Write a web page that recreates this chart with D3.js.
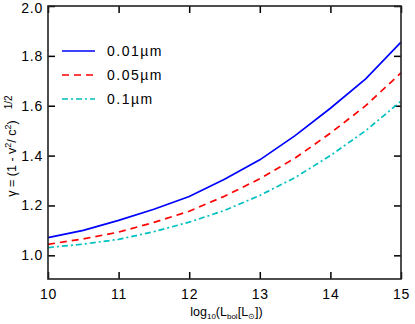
<!DOCTYPE html>
<html>
<head>
<meta charset="utf-8">
<script src="https://cdn.jsdelivr.net/npm/d3@7"></script>
<style>
  body { margin: 0; background: #fff; }
  text { font-family: "Liberation Sans", Arial, sans-serif; fill: #000; }
</style>
</head>
<body>
<div id="chart"></div>
<script>
var svgWidth = 415;
var svgHeight = 324;

var margin = { top: 6, right: 14, bottom: 45, left: 48 };
var width = svgWidth - margin.left - margin.right;
var height = svgHeight - margin.top - margin.bottom;

// data
var logL = [10, 10.5, 11, 11.5, 12, 12.5, 13, 13.5, 14, 14.5, 15];
var gamma001 = [1.071, 1.100, 1.140, 1.185, 1.236, 1.305, 1.383, 1.480, 1.590, 1.708, 1.855];
var gamma005 = [1.044, 1.066, 1.093, 1.132, 1.177, 1.237, 1.307, 1.390, 1.490, 1.600, 1.732];
var gamma01 = [1.031, 1.045, 1.064, 1.095, 1.133, 1.180, 1.240, 1.312, 1.400, 1.500, 1.618];
var seriesNames = ["0.01\u00b5m", "0.05\u00b5m", "0.1\u00b5m"];
var xTicks = [10, 11, 12, 13, 14, 15];
var yTicks = [1.0, 1.2, 1.4, 1.6, 1.8, 2.0];

var series = [
    { name: seriesNames[0], values: gamma001, color: "#0000ff", dash: null },
    { name: seriesNames[1], values: gamma005, color: "#ff0000", dash: "7,5" },
    { name: seriesNames[2], values: gamma01, color: "#00c0c0", dash: "6,3,2,3" }
];

var svg = d3.select("#chart").append("svg")
    .attr("width", svgWidth)
    .attr("height", svgHeight);

var chartGroup = svg.append("g")
    .attr("transform", `translate(${margin.left}, ${margin.top})`);

var x = d3.scaleLinear().domain([10, 15]).range([0, width]);
var y = d3.scaleLinear().domain([0.905, 2.0]).range([height, 0]);

// axes with inward ticks on all four sides
function styleAxis(g) {
    g.select(".domain").remove();
    g.selectAll(".tick line").attr("stroke", "#000").attr("stroke-width", 1.5);
    g.selectAll(".tick text").attr("font-size", "14px").attr("letter-spacing", "0.8px")
        .attr("fill", "#000");
}

chartGroup.append("g")
    .attr("transform", `translate(0, ${height})`)
    .call(d3.axisBottom(x).tickValues(xTicks).tickSize(-7).tickPadding(10).tickFormat(d3.format("d")))
    .call(styleAxis);

chartGroup.append("g")
    .call(d3.axisTop(x).tickValues(xTicks).tickSize(-7).tickFormat(""))
    .call(styleAxis);

var yAxis = chartGroup.append("g")
    .call(d3.axisLeft(y).tickValues(yTicks).tickSize(-7).tickPadding(5).tickFormat(d3.format(".1f")))
    .call(styleAxis);
// keep the top label inside the picture
yAxis.selectAll(".tick text").filter(d => d === 2.0).attr("dy", "0.45em");

chartGroup.append("g")
    .attr("transform", `translate(${width}, 0)`)
    .call(d3.axisRight(y).tickValues(yTicks).tickSize(-7).tickFormat(""))
    .call(styleAxis);

// lines
var line = d3.line()
    .x((d, i) => x(logL[i]))
    .y(d => y(d));

series.forEach(function(s) {
    chartGroup.append("path")
        .datum(s.values)
        .attr("fill", "none")
        .attr("stroke", s.color)
        .attr("stroke-width", 1.7)
        .attr("stroke-dasharray", s.dash)
        .attr("d", line);
});

// frame
chartGroup.append("rect")
    .attr("width", width)
    .attr("height", height)
    .attr("fill", "none")
    .attr("stroke", "#222")
    .attr("stroke-width", 1.6);

// legend
var legend = chartGroup.append("g").attr("transform", "translate(14, 45)");
series.forEach(function(s, i) {
    var row = legend.append("g").attr("transform", `translate(0, ${i * 24})`);
    row.append("line")
        .attr("x1", 0).attr("x2", 33)
        .attr("y1", 0).attr("y2", 0)
        .attr("stroke", s.color)
        .attr("stroke-width", 1.7)
        .attr("stroke-dasharray", s.dash);
    row.append("text")
        .attr("x", 45).attr("y", 5)
        .attr("font-size", "14px")
        .attr("letter-spacing", "1.5px")
        .text(s.name);
});

// x axis title
var xt = svg.append("text")
    .attr("x", margin.left + width / 2 + 2)
    .attr("y", 316)
    .attr("text-anchor", "middle")
    .attr("font-size", "12.5px");
xt.append("tspan").text("log");
xt.append("tspan").attr("font-size", "8px").attr("dy", 3).text("10");
xt.append("tspan").attr("dy", -3).text("(L");
xt.append("tspan").attr("font-size", "8px").attr("dy", 3).text("bol");
xt.append("tspan").attr("dy", -3).text("[L");
xt.append("tspan").attr("font-size", "8px").attr("dy", 3).text("\u2299");
xt.append("tspan").attr("dy", -3).text("])");

// y axis title
var yt = svg.append("text")
    .attr("transform", "rotate(-90)")
    .attr("x", -146)
    .attr("y", 16)
    .attr("text-anchor", "middle")
    .attr("font-size", "12.5px");
yt.append("tspan").text("\u03b3 = (1 - v");
yt.append("tspan").attr("font-size", "9px").attr("dy", -5).text("2");
yt.append("tspan").attr("dy", 5).text("/ c");
yt.append("tspan").attr("font-size", "9px").attr("dy", -5).text("2");
yt.append("tspan").attr("dy", 5).text(")");
yt.append("tspan").attr("font-size", "10px").attr("dx", 11).attr("dy", -4).text("1/2");
</script>
</body>
</html>
